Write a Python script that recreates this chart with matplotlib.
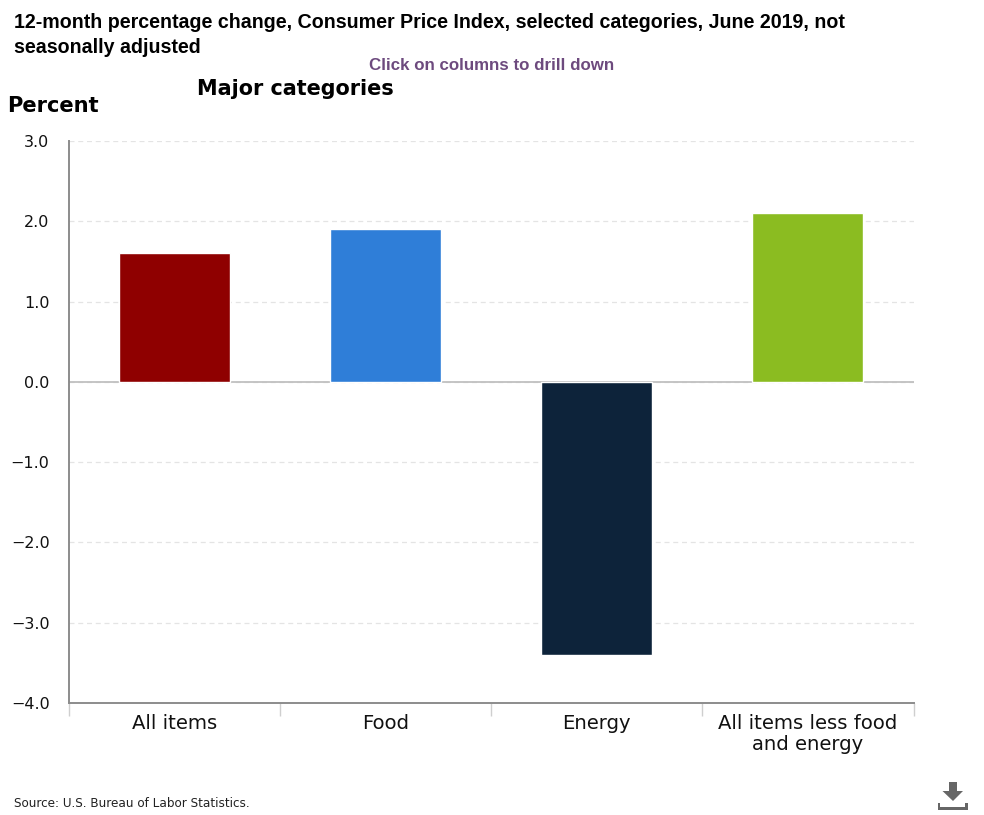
import matplotlib
matplotlib.use("Agg")
import matplotlib.pyplot as plt
from matplotlib.patches import Polygon, Rectangle

categories = ["All items", "Food", "Energy", "All items less food\nand energy"]
values = [1.6, 1.9, -3.4, 2.1]
colors = ["#8f0000", "#2f7ed8", "#0d233a", "#8bbc21"]
yticks = [3.0, 2.0, 1.0, 0.0, -1.0, -2.0, -3.0, -4.0]
ytick_labels = ["3.0", "2.0", "1.0", "0.0", "\u22121.0", "\u22122.0", "\u22123.0", "\u22124.0"]

W, H = 984, 815
fig = plt.figure(figsize=(W / 100, H / 100), dpi=100, facecolor="white")
L, R, T, B = 69, 913.5, 141, 703
ax = fig.add_axes([L / W, 1 - B / H, (R - L) / W, (B - T) / H])
ax.set_xlim(-0.5, 3.5)
ax.set_ylim(-4, 3)

ax.set_yticks(yticks)
ax.set_yticklabels(ytick_labels, fontsize=11.5, color="#111111")
ax.yaxis.grid(True, color="#e4e4e4", linestyle=(0, (4, 3)), linewidth=0.9)
ax.set_axisbelow(True)
ax.tick_params(axis="y", length=0, pad=14)

ax.bar(range(4), values, width=0.526, color=colors, edgecolor="white", linewidth=1, zorder=3)
ax.axhline(0, color="#c0c0c0", linewidth=1.3, zorder=2)

ax.set_xticks([-0.5, 0.5, 1.5, 2.5, 3.5])
ax.set_xticklabels([])
ax.tick_params(axis="x", length=9, width=1, color="#cfcfcf")
for x, label in enumerate(categories):
    ax.annotate(label, (x, 0), xycoords=("data", "axes fraction"), xytext=(0, -11),
                textcoords="offset pixels", ha="center", va="top", fontsize=14.1,
                linespacing=1.1, color="#111111")

for side in ("top", "right"):
    ax.spines[side].set_visible(False)
for side in ("left", "bottom"):
    ax.spines[side].set_color("#8c8c8c")
    ax.spines[side].set_linewidth(1.4)

def px(x, y):
    return x / W, 1 - y / H

fig.text(*px(14, 23), "12-month percentage change, Consumer Price Index, selected categories, June 2019, not",
         family="Liberation Sans", weight="bold", fontsize=14.14, va="center", color="black")
fig.text(*px(14, 47.5), "seasonally adjusted",
         family="Liberation Sans", weight="bold", fontsize=14.14, va="center", color="black")
fig.text(*px(491.5, 65), "Click on columns to drill down", family="Liberation Sans", weight="bold",
         fontsize=12.2, ha="center", va="center", color="#6d4a7e")
fig.text(*px(295, 89), "Major categories", weight="bold", fontsize=14.95, ha="center", va="center", color="black")
fig.text(*px(7, 106), "Percent", weight="bold", fontsize=15.1, va="center", color="black")
fig.text(*px(14, 803.5), "Source: U.S. Bureau of Labor Statistics.", fontsize=8.63, va="center", color="#222222")

# download icon
icon = "#666666"
arrow = [(949, 782), (957, 782), (957, 791), (963, 791), (953, 801), (942.5, 791), (949, 791)]
fig.add_artist(Polygon([px(*p) for p in arrow], closed=True, transform=fig.transFigure, color=icon, lw=0))
for x, y, w, h in [(937.5, 806.5, 30, 3.5), (937.5, 803, 2.5, 7), (965, 803, 2.5, 7)]:
    x0, y0 = px(x, y + h)
    fig.add_artist(Rectangle((x0, y0), w / W, h / H, transform=fig.transFigure, color=icon, lw=0))

fig.savefig("out.png", dpi=100)
